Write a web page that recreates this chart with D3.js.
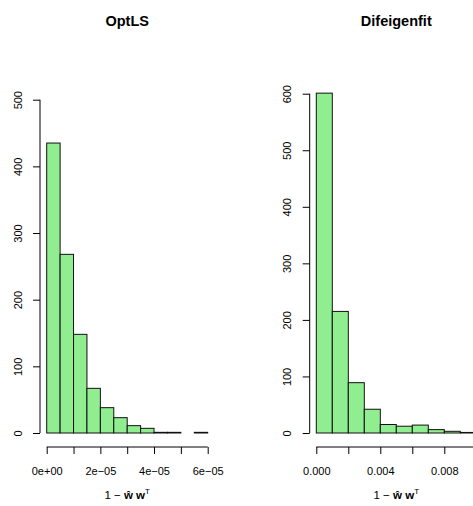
<!DOCTYPE html>
<html>
<head>
<meta charset="utf-8">
<script src="https://d3js.org/d3.v7.min.js"></script>
<style>
  body { margin: 0; background: #fff; }
  svg { display: block; }
  text { font-family: "Liberation Sans", Arial, sans-serif; fill: #000; }
</style>
</head>
<body>
<svg id="chart" width="473" height="506"></svg>
<script>
// panel titles
var titles = ["OptLS", "Difeigenfit"];

// OptLS histogram: bin edges every 0.5e-5 from 0 to 6e-5
var optBreakStep = 0.5e-5;
var optCounts = [435, 268, 148, 67, 38, 23, 11, 7, 1, 1, 0, 1];
var optXTicks = [0, 1e-5, 2e-5, 3e-5, 4e-5, 5e-5, 6e-5];
var optXLabels = ["0e+00", "", "2e\u221205", "", "4e\u221205", "", "6e\u221205"];
var optYTicks = [0, 100, 200, 300, 400, 500];

// Difeigenfit histogram: bin edges every 0.001 from 0 to 0.010
var difBreakStep = 0.001;
var difCounts = [601, 215, 89, 42, 15, 12, 14, 6, 3, 1];
var difXTicks = [0, 0.002, 0.004, 0.006, 0.008, 0.010];
var difXLabels = ["0.000", "", "0.004", "", "0.008", ""];
var difYTicks = [0, 100, 200, 300, 400, 500, 600];

var svg = d3.select("#chart");

function panel(opt) {
	var g = svg.append("g");
	var bins = opt.counts.map(function(c, i) {
		return { x0: i * opt.step, x1: (i + 1) * opt.step, n: c };
	});
	var xmax = opt.counts.length * opt.step;

	var x = d3.scaleLinear().domain([0, xmax]).range([opt.left, opt.right]);
	var y = d3.scaleLinear().domain([0, opt.ymax]).range([433, opt.ytop]);

	// bars
	g.selectAll("rect")
		.data(bins)
		.enter().append("rect")
		.attr("x", function(d) { return x(d.x0); })
		.attr("y", function(d) { return y(d.n); })
		.attr("width", function(d) { return x(d.x1) - x(d.x0); })
		.attr("height", function(d) { return y(0) - y(d.n); })
		.style("fill", "#90ee90")
		.style("stroke", "#111")
		.style("stroke-width", 1);

	// x axis (below the plot, ticks pointing down)
	var xAxis = d3.axisBottom(x)
		.tickValues(opt.xTicks)
		.tickSize(7)
		.tickSizeOuter(0)
		.tickPadding(13)
		.tickFormat(function(d, i) { return opt.xLabels[i]; });
	var gx = g.append("g").attr("transform", "translate(0,447)").call(xAxis);
	gx.select(".domain").attr("d", "M" + x(0) + ",0H" + x(opt.xTicks[opt.xTicks.length - 1]));
	gx.selectAll("text").style("font-size", "11px").style("font-family", "Liberation Sans, Arial, sans-serif");

	// y axis (ticks pointing left, labels rotated)
	var yAxis = d3.axisLeft(y)
		.tickValues(opt.yTicks)
		.tickSize(7)
		.tickSizeOuter(0)
		.tickFormat(d3.format("d"));
	var gy = g.append("g").attr("transform", "translate(" + opt.axisX + ",0)").call(yAxis);
	gy.select(".domain").attr("d", "M0," + y(0) + "V" + y(opt.yTicks[opt.yTicks.length - 1]));
	gy.selectAll(".tick text")
		.attr("x", null).attr("dy", null)
		.attr("transform", "translate(-18.5,0) rotate(-90)")
		.attr("text-anchor", "middle")
		.style("font-size", "11px")
		.style("font-family", "Liberation Sans, Arial, sans-serif");
	g.selectAll(".domain, .tick line").style("stroke", "#000");

	var cx = (opt.axisX + opt.right + (opt.left - opt.axisX)) / 2;

	// title
	g.append("text")
		.attr("x", cx).attr("y", 26)
		.attr("text-anchor", "middle")
		.style("font-size", "14.5px")
		.style("font-weight", "bold")
		.text(opt.title);

	// x label: 1 - w-hat w^T
	var lab = g.append("text")
		.attr("x", cx).attr("y", 499)
		.attr("text-anchor", "middle")
		.style("font-size", "11.5px");
	lab.append("tspan").text("1 \u2212 ");
	lab.append("tspan").style("font-weight", "bold").text("\u0175");
	lab.append("tspan").text(" ");
	lab.append("tspan").style("font-weight", "bold").text("w");
	lab.append("tspan").attr("dy", -5).style("font-size", "8px").text("T");
}

panel({
	title: titles[0], counts: optCounts, step: optBreakStep,
	xTicks: optXTicks, xLabels: optXLabels, yTicks: optYTicks,
	left: 46.7, right: 207.7, axisX: 40, ymax: 500, ytop: 99.7
});

panel({
	title: titles[1], counts: difCounts, step: difBreakStep,
	xTicks: difXTicks, xLabels: difXLabels, yTicks: difYTicks,
	left: 316.3, right: 476.3, axisX: 309.7, ymax: 600, ytop: 93.7
});
</script>
</body>
</html>
